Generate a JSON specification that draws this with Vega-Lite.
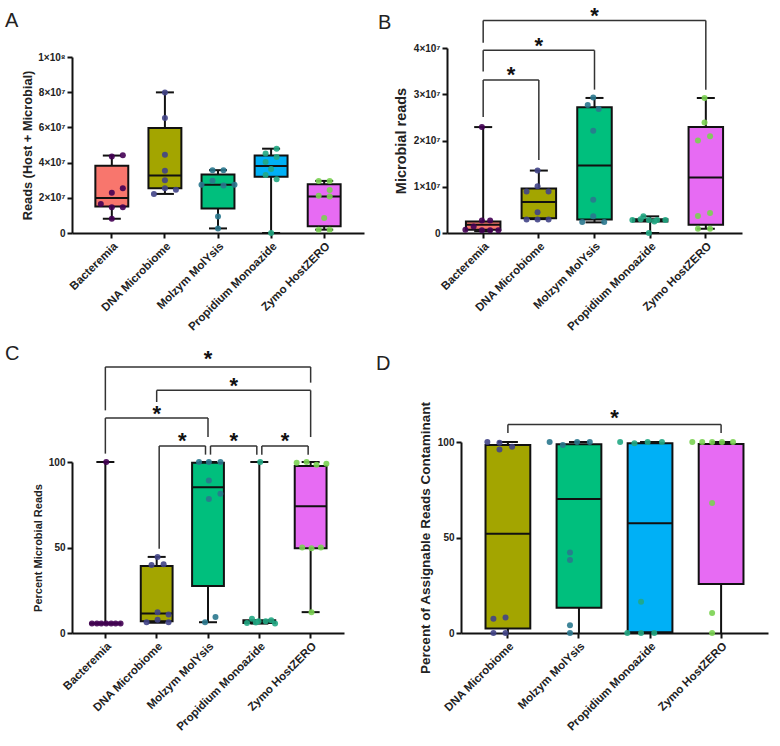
{
  "$schema": "https://vega.github.io/schema/vega-lite/v6.json",
  "background": "white",
  "padding": 5,
  "spacing": 10,
  "config": {
    "font": "Liberation Sans",
    "view": {"stroke": null},
    "axis": {"grid": false, "domainColor": "#111", "domainWidth": 2, "tickColor": "#111", "tickWidth": 2, "tickSize": 5, "labelFont": "Liberation Sans", "labelFontWeight": "bold", "labelFontSize": 10, "labelColor": "#222", "labelOverlap": false, "labelBound": false, "titleFont": "Liberation Sans", "titleFontWeight": "bold", "titleFontSize": 12, "titleColor": "#222"},
    "axisX": {"labelAngle": -45, "labelFontSize": 11.5},
    "title": {"anchor": "start", "frame": "group", "fontSize": 20, "fontWeight": "normal", "color": "#222", "offset": 0}
  },
  "datasets": {
    "boxA": [
      {"g": "Bacteremia", "min": 8100000, "q1": 15000000, "med": 19900000, "q3": 38200000, "max": 44000000},
      {"g": "DNA Microbiome", "min": 22200000, "q1": 25400000, "med": 32700000, "q3": 59600000, "max": 79900000},
      {"g": "Molzym MolYsis", "min": 2600000, "q1": 13900000, "med": 27400000, "q3": 33300000, "max": 35700000},
      {"g": "Propidium Monoazide", "min": 0, "q1": 32000000, "med": 38000000, "q3": 44000000, "max": 47900000},
      {"g": "Zymo HostZERO", "min": 1900000, "q1": 3800000, "med": 20800000, "q3": 27700000, "max": 29600000}
    ],
    "ptsA": [
      {"g": "Bacteremia", "v": 43500000, "j": 0}, {"g": "Bacteremia", "v": 44200000, "j": 2}, {"g": "Bacteremia", "v": 22900000, "j": 0}, {"g": "Bacteremia", "v": 25400000, "j": 2},
      {"g": "Bacteremia", "v": 16500000, "j": -2}, {"g": "Bacteremia", "v": 14700000, "j": 0}, {"g": "Bacteremia", "v": 14700000, "j": 2}, {"g": "Bacteremia", "v": 8100000, "j": 0},
      {"g": "DNA Microbiome", "v": 79900000, "j": 0}, {"g": "DNA Microbiome", "v": 65400000, "j": 0}, {"g": "DNA Microbiome", "v": 44500000, "j": 0}, {"g": "DNA Microbiome", "v": 35300000, "j": 0},
      {"g": "DNA Microbiome", "v": 30000000, "j": 0}, {"g": "DNA Microbiome", "v": 25400000, "j": 0}, {"g": "DNA Microbiome", "v": 24600000, "j": 2}, {"g": "DNA Microbiome", "v": 22200000, "j": -2},
      {"g": "Molzym MolYsis", "v": 35700000, "j": -1}, {"g": "Molzym MolYsis", "v": 35700000, "j": 1}, {"g": "Molzym MolYsis", "v": 27400000, "j": -3}, {"g": "Molzym MolYsis", "v": 29700000, "j": -1},
      {"g": "Molzym MolYsis", "v": 27000000, "j": 1}, {"g": "Molzym MolYsis", "v": 27400000, "j": 3}, {"g": "Molzym MolYsis", "v": 9400000, "j": 0}, {"g": "Molzym MolYsis", "v": 2600000, "j": 0},
      {"g": "Propidium Monoazide", "v": 47900000, "j": 1}, {"g": "Propidium Monoazide", "v": 45100000, "j": -1}, {"g": "Propidium Monoazide", "v": 43200000, "j": 1}, {"g": "Propidium Monoazide", "v": 40400000, "j": -1},
      {"g": "Propidium Monoazide", "v": 36300000, "j": 0}, {"g": "Propidium Monoazide", "v": 32900000, "j": -1}, {"g": "Propidium Monoazide", "v": 30500000, "j": 1}, {"g": "Propidium Monoazide", "v": 0, "j": 0},
      {"g": "Zymo HostZERO", "v": 29600000, "j": -1}, {"g": "Zymo HostZERO", "v": 29600000, "j": 1}, {"g": "Zymo HostZERO", "v": 24500000, "j": 1}, {"g": "Zymo HostZERO", "v": 21100000, "j": -1},
      {"g": "Zymo HostZERO", "v": 20800000, "j": 1}, {"g": "Zymo HostZERO", "v": 8500000, "j": 0}, {"g": "Zymo HostZERO", "v": 1900000, "j": -1}, {"g": "Zymo HostZERO", "v": 1900000, "j": 1}
    ],
    "boxB": [
      {"g": "Bacteremia", "min": 400000, "q1": 700000, "med": 1800000, "q3": 2500000, "max": 22900000},
      {"g": "DNA Microbiome", "min": 3000000, "q1": 3200000, "med": 6700000, "q3": 9600000, "max": 13500000},
      {"g": "Molzym MolYsis", "min": 2300000, "q1": 2900000, "med": 14600000, "q3": 27200000, "max": 29200000},
      {"g": "Propidium Monoazide", "min": 0, "q1": 2500000, "med": 2800000, "q3": 3000000, "max": 3600000},
      {"g": "Zymo HostZERO", "min": 900000, "q1": 1800000, "med": 12000000, "q3": 22900000, "max": 29200000}
    ],
    "ptsB": [
      {"g": "Bacteremia", "v": 22900000, "j": 0}, {"g": "Bacteremia", "v": 2700000, "j": 0}, {"g": "Bacteremia", "v": 2700000, "j": 1.5}, {"g": "Bacteremia", "v": 1400000, "j": -1.5},
      {"g": "Bacteremia", "v": 700000, "j": -3}, {"g": "Bacteremia", "v": 600000, "j": 0}, {"g": "Bacteremia", "v": 600000, "j": 1.5}, {"g": "Bacteremia", "v": 600000, "j": 3},
      {"g": "DNA Microbiome", "v": 13500000, "j": 0}, {"g": "DNA Microbiome", "v": 10100000, "j": 0}, {"g": "DNA Microbiome", "v": 9000000, "j": -2}, {"g": "DNA Microbiome", "v": 9000000, "j": 2},
      {"g": "DNA Microbiome", "v": 4500000, "j": 0}, {"g": "DNA Microbiome", "v": 2900000, "j": -2}, {"g": "DNA Microbiome", "v": 2900000, "j": 0}, {"g": "DNA Microbiome", "v": 2900000, "j": 2},
      {"g": "Molzym MolYsis", "v": 29300000, "j": 0}, {"g": "Molzym MolYsis", "v": 27700000, "j": -1}, {"g": "Molzym MolYsis", "v": 26800000, "j": 1}, {"g": "Molzym MolYsis", "v": 22100000, "j": 0},
      {"g": "Molzym MolYsis", "v": 7200000, "j": 0}, {"g": "Molzym MolYsis", "v": 3600000, "j": 0}, {"g": "Molzym MolYsis", "v": 2400000, "j": -2}, {"g": "Molzym MolYsis", "v": 2400000, "j": 2},
      {"g": "Propidium Monoazide", "v": 3600000, "j": -1}, {"g": "Propidium Monoazide", "v": 2800000, "j": -3}, {"g": "Propidium Monoazide", "v": 3000000, "j": -1.5}, {"g": "Propidium Monoazide", "v": 2800000, "j": 0},
      {"g": "Propidium Monoazide", "v": 2800000, "j": 1.5}, {"g": "Propidium Monoazide", "v": 2800000, "j": 3}, {"g": "Propidium Monoazide", "v": 2500000, "j": 1}, {"g": "Propidium Monoazide", "v": 0, "j": 0},
      {"g": "Zymo HostZERO", "v": 29200000, "j": 0}, {"g": "Zymo HostZERO", "v": 23900000, "j": 0}, {"g": "Zymo HostZERO", "v": 20000000, "j": -1.2}, {"g": "Zymo HostZERO", "v": 20900000, "j": 1},
      {"g": "Zymo HostZERO", "v": 3700000, "j": -1.2}, {"g": "Zymo HostZERO", "v": 4300000, "j": 1}, {"g": "Zymo HostZERO", "v": 900000, "j": -1.2}, {"g": "Zymo HostZERO", "v": 900000, "j": 1}
    ],
    "brB": [
      {"a": "Bacteremia", "b": "DNA Microbiome", "h": 33100000, "ea": 25100000, "eb": 15800000},
      {"a": "Bacteremia", "b": "Molzym MolYsis", "h": 39500000, "ea": 34900000, "eb": 31000000},
      {"a": "Bacteremia", "b": "Zymo HostZERO", "h": 45970000, "ea": 41150000, "eb": 31000000}
    ],
    "starB": [
      {"c": "DNA Microbiome", "at": "edge", "s": 35200000},
      {"c": "DNA Microbiome", "at": "center", "s": 41600000},
      {"c": "Molzym MolYsis", "at": "center", "s": 47900000}
    ],
    "boxC": [
      {"g": "Bacteremia", "min": 5.5, "q1": 5.5, "med": 5.5, "q3": 5.5, "max": 100},
      {"g": "DNA Microbiome", "min": 6.0, "q1": 6.9, "med": 11.4, "q3": 39.2, "max": 44.5},
      {"g": "Molzym MolYsis", "min": 6.3, "q1": 27.5, "med": 85.3, "q3": 99.6, "max": 100},
      {"g": "Propidium Monoazide", "min": 5.5, "q1": 5.9, "med": 6.9, "q3": 7.5, "max": 100},
      {"g": "Zymo HostZERO", "min": 12.2, "q1": 49.6, "med": 74.1, "q3": 97.6, "max": 100}
    ],
    "ptsC": [
      {"g": "Bacteremia", "v": 100, "j": 0}, {"g": "Bacteremia", "v": 5.5, "j": -2.6}, {"g": "Bacteremia", "v": 5.5, "j": -1.7}, {"g": "Bacteremia", "v": 5.5, "j": -0.9},
      {"g": "Bacteremia", "v": 5.5, "j": 0}, {"g": "Bacteremia", "v": 5.5, "j": 0.9}, {"g": "Bacteremia", "v": 5.5, "j": 1.7}, {"g": "Bacteremia", "v": 5.5, "j": 2.6},
      {"g": "DNA Microbiome", "v": 44.5, "j": 0}, {"g": "DNA Microbiome", "v": 39.8, "j": -1.1}, {"g": "DNA Microbiome", "v": 40.2, "j": 1.1}, {"g": "DNA Microbiome", "v": 12.2, "j": 0},
      {"g": "DNA Microbiome", "v": 10.8, "j": 2}, {"g": "DNA Microbiome", "v": 7.8, "j": 0}, {"g": "DNA Microbiome", "v": 6.3, "j": -2}, {"g": "DNA Microbiome", "v": 6.3, "j": 2},
      {"g": "Molzym MolYsis", "v": 100, "j": -1.8}, {"g": "Molzym MolYsis", "v": 100, "j": 0}, {"g": "Molzym MolYsis", "v": 100, "j": 2.1}, {"g": "Molzym MolYsis", "v": 89.2, "j": 0},
      {"g": "Molzym MolYsis", "v": 78.4, "j": 0}, {"g": "Molzym MolYsis", "v": 81.4, "j": 2.1}, {"g": "Molzym MolYsis", "v": 6.3, "j": -0.7}, {"g": "Molzym MolYsis", "v": 9.4, "j": 1.2},
      {"g": "Propidium Monoazide", "v": 100, "j": 0}, {"g": "Propidium Monoazide", "v": 5.9, "j": -2.4}, {"g": "Propidium Monoazide", "v": 8.4, "j": -1.5}, {"g": "Propidium Monoazide", "v": 6.9, "j": -0.3},
      {"g": "Propidium Monoazide", "v": 6.9, "j": 1}, {"g": "Propidium Monoazide", "v": 7.5, "j": 2}, {"g": "Propidium Monoazide", "v": 5.5, "j": 2.7}, {"g": "Propidium Monoazide", "v": 6.2, "j": -0.8},
      {"g": "Zymo HostZERO", "v": 100, "j": -0.9}, {"g": "Zymo HostZERO", "v": 99.5, "j": -2.7}, {"g": "Zymo HostZERO", "v": 98.4, "j": 0.9}, {"g": "Zymo HostZERO", "v": 99, "j": 2.7},
      {"g": "Zymo HostZERO", "v": 50, "j": -1.7}, {"g": "Zymo HostZERO", "v": 49.6, "j": 0}, {"g": "Zymo HostZERO", "v": 50, "j": 1.7}, {"g": "Zymo HostZERO", "v": 12.2, "j": 0}
    ],
    "brC": [
      {"a": "Bacteremia", "b": "Zymo HostZERO", "h": 155.6, "ea": 130.2, "eb": 146.4},
      {"a": "DNA Microbiome", "b": "Zymo HostZERO", "h": 141.9, "ea": 135.1, "eb": 114.6},
      {"a": "Bacteremia", "b": "Molzym MolYsis", "h": 125.7, "ea": 104.9, "eb": 114.6}
    ],
    "brC2": [
      {"a": "DNA Microbiome", "b": "Molzym MolYsis", "h": 109.4, "ea": 49.3, "eb": 104.3},
      {"a": "Molzym MolYsis", "b": "Propidium Monoazide", "h": 109.4, "ea": 104.3, "eb": 104.3},
      {"a": "Propidium Monoazide", "b": "Zymo HostZERO", "h": 109.4, "ea": 104.3, "eb": 104.3}
    ],
    "starC": [
      {"c": "Molzym MolYsis", "at": "center", "s": 163.3},
      {"c": "Propidium Monoazide", "at": "edge", "s": 147.4},
      {"c": "DNA Microbiome", "at": "center", "s": 131.2},
      {"c": "Molzym MolYsis", "at": "edge", "s": 115},
      {"c": "Propidium Monoazide", "at": "edge", "s": 115},
      {"c": "Zymo HostZERO", "at": "edge", "s": 115}
    ],
    "boxD": [
      {"g": "DNA Microbiome", "min": 0, "q1": 2.3, "med": 51.9, "q3": 98.4, "max": 100},
      {"g": "Molzym MolYsis", "min": 0, "q1": 13.2, "med": 70.2, "q3": 98.8, "max": 100},
      {"g": "Propidium Monoazide", "min": 0, "q1": 0.35, "med": 57.5, "q3": 99.3, "max": 100},
      {"g": "Zymo HostZERO", "min": 0, "q1": 25.6, "med": 99, "q3": 99, "max": 100}
    ],
    "ptsD": [
      {"g": "DNA Microbiome", "v": 100, "j": -2.1}, {"g": "DNA Microbiome", "v": 99.6, "j": 0.1}, {"g": "DNA Microbiome", "v": 96.1, "j": 0.1}, {"g": "DNA Microbiome", "v": 97.5, "j": 2.4},
      {"g": "DNA Microbiome", "v": 7.5, "j": -1}, {"g": "DNA Microbiome", "v": 8.1, "j": 1.2}, {"g": "DNA Microbiome", "v": 0, "j": -1}, {"g": "DNA Microbiome", "v": 0, "j": 1.2},
      {"g": "Molzym MolYsis", "v": 100, "j": -3.7}, {"g": "Molzym MolYsis", "v": 100, "j": 1.3}, {"g": "Molzym MolYsis", "v": 100, "j": 3.6}, {"g": "Molzym MolYsis", "v": 98.4, "j": -1.3},
      {"g": "Molzym MolYsis", "v": 42.1, "j": 0}, {"g": "Molzym MolYsis", "v": 38.2, "j": 0}, {"g": "Molzym MolYsis", "v": 4.0, "j": 0}, {"g": "Molzym MolYsis", "v": 0, "j": 0},
      {"g": "Propidium Monoazide", "v": 100, "j": -3.8}, {"g": "Propidium Monoazide", "v": 100, "j": 1.2}, {"g": "Propidium Monoazide", "v": 100, "j": 3.8}, {"g": "Propidium Monoazide", "v": 99.3, "j": -1.2},
      {"g": "Propidium Monoazide", "v": 16.3, "j": 0}, {"g": "Propidium Monoazide", "v": 0, "j": -2.5}, {"g": "Propidium Monoazide", "v": 0, "j": 0}, {"g": "Propidium Monoazide", "v": 0, "j": 2.4},
      {"g": "Zymo HostZERO", "v": 100, "j": -3.6}, {"g": "Zymo HostZERO", "v": 100, "j": -1.8}, {"g": "Zymo HostZERO", "v": 100, "j": 0}, {"g": "Zymo HostZERO", "v": 100, "j": 1.8},
      {"g": "Zymo HostZERO", "v": 100, "j": 3.8}, {"g": "Zymo HostZERO", "v": 68.1, "j": 0}, {"g": "Zymo HostZERO", "v": 10.5, "j": 0}, {"g": "Zymo HostZERO", "v": 0, "j": 0}
    ],
    "brD": [
      {"a": "DNA Microbiome", "b": "Zymo HostZERO", "h": 109.1, "ea": 104.7, "eb": 104.7}
    ],
    "starD": [
      {"c": "Propidium Monoazide", "at": "edge", "s": 115.2}
    ]
  },
  "vconcat": [
    {
      "bounds": "flush",
      "spacing": 83,
      "hconcat": [
        {
          "width": 292, "height": 185,
          "title": {"text": "A", "dx": -67, "dy": -13},
          "layer": [
            {"data": {"name": "boxA"}, "mark": {"type": "rule", "color": "#111", "strokeWidth": 2},
             "encoding": {
               "x": {"field": "g", "type": "nominal", "sort": ["Bacteremia", "DNA Microbiome", "Molzym MolYsis", "Propidium Monoazide", "Zymo HostZERO"], "scale": {"paddingInner": 0, "paddingOuter": 0.25}, "axis": {"title": null}},
               "y": {"field": "min", "type": "quantitative", "scale": {"domain": [0, 100000000], "range": [185, 9], "nice": false, "zero": true}, "axis": {"title": "Reads (Host + Microbial)", "titleFontSize": 12.8, "titlePadding": 3, "tickCount": 10, "values": [0, 20000000, 40000000, 60000000, 80000000, 100000000], "labelExpr": "datum.value == 0 ? '0' : (datum.value >= 100000000 ? '1×10⁸' : format(datum.value / 10000000, 'd') + '×10⁷')"}},
               "y2": {"field": "max"}}},
            {"data": {"name": "boxA"}, "mark": {"type": "bar", "stroke": "#111", "strokeWidth": 2},
             "encoding": {
               "x": {"field": "g", "type": "nominal", "bandPosition": 0.19, "sort": ["Bacteremia", "DNA Microbiome", "Molzym MolYsis", "Propidium Monoazide", "Zymo HostZERO"]},
               "x2": {"field": "g", "bandPosition": 0.81},
               "y": {"field": "q1", "type": "quantitative", "scale": {"domain": [0, 100000000], "range": [185, 9], "nice": false, "zero": true}}, "y2": {"field": "q3"},
               "fill": {"field": "g", "type": "nominal", "scale": {"domain": ["Bacteremia", "DNA Microbiome", "Molzym MolYsis", "Propidium Monoazide", "Zymo HostZERO"], "range": ["#F8766D", "#A3A500", "#00BF7D", "#00B0F6", "#E76BF3"]}, "legend": null}}},
            {"data": {"name": "boxA"}, "mark": {"type": "bar", "stroke": "#111", "strokeWidth": 2, "fillOpacity": 0},
             "encoding": {
               "x": {"field": "g", "type": "nominal", "bandPosition": 0.19, "sort": ["Bacteremia", "DNA Microbiome", "Molzym MolYsis", "Propidium Monoazide", "Zymo HostZERO"]},
               "x2": {"field": "g", "bandPosition": 0.81},
               "y": {"field": "med", "type": "quantitative", "scale": {"domain": [0, 100000000], "range": [185, 9], "nice": false, "zero": true}}, "y2": {"field": "med"}}},
            {"data": {"name": "boxA"}, "mark": {"type": "tick", "size": 18, "thickness": 2, "color": "#111", "opacity": 1},
             "encoding": {
               "x": {"field": "g", "type": "nominal", "sort": ["Bacteremia", "DNA Microbiome", "Molzym MolYsis", "Propidium Monoazide", "Zymo HostZERO"]},
               "y": {"field": "max", "type": "quantitative", "scale": {"domain": [0, 100000000], "range": [185, 9], "nice": false, "zero": true}}}},
            {"data": {"name": "boxA"}, "mark": {"type": "tick", "size": 18, "thickness": 2, "color": "#111", "opacity": 1},
             "encoding": {
               "x": {"field": "g", "type": "nominal", "sort": ["Bacteremia", "DNA Microbiome", "Molzym MolYsis", "Propidium Monoazide", "Zymo HostZERO"]},
               "y": {"field": "min", "type": "quantitative", "scale": {"domain": [0, 100000000], "range": [185, 9], "nice": false, "zero": true}}}},
            {"data": {"name": "ptsA"}, "mark": {"type": "point", "filled": true, "size": 36, "opacity": 0.9},
             "encoding": {
               "x": {"field": "g", "type": "nominal", "sort": ["Bacteremia", "DNA Microbiome", "Molzym MolYsis", "Propidium Monoazide", "Zymo HostZERO"]},
               "xOffset": {"field": "j", "type": "quantitative", "scale": {"domain": [-4, 4], "range": [4.55, 48.55]}},
               "y": {"field": "v", "type": "quantitative", "scale": {"domain": [0, 100000000], "range": [185, 9], "nice": false, "zero": true}},
               "color": {"field": "g", "type": "nominal", "scale": {"domain": ["Bacteremia", "DNA Microbiome", "Molzym MolYsis", "Propidium Monoazide", "Zymo HostZERO"], "range": ["#440154", "#414487", "#2A788E", "#22A884", "#7AD151"]}, "legend": null}}}
          ]
        },
        {
          "width": 295, "height": 185,
          "title": {"text": "B", "dx": -69, "dy": 32},
          "layer": [
            {"data": {"name": "boxB"}, "mark": {"type": "rule", "color": "#111", "strokeWidth": 2},
             "encoding": {
               "x": {"field": "g", "type": "nominal", "sort": ["Bacteremia", "DNA Microbiome", "Molzym MolYsis", "Propidium Monoazide", "Zymo HostZERO"], "scale": {"paddingInner": 0, "paddingOuter": 0.15}, "axis": {"title": null}},
               "y": {"field": "min", "type": "quantitative", "scale": {"domain": [0, 40000000], "nice": false, "zero": true}, "axis": {"title": "Microbial reads", "titleFontSize": 14.5, "titlePadding": 5, "tickCount": 10, "values": [0, 10000000, 20000000, 30000000, 40000000], "labelExpr": "datum.value == 0 ? '0' : format(datum.value / 10000000, 'd') + '×10⁷'"}},
               "y2": {"field": "max"}}},
            {"data": {"name": "boxB"}, "mark": {"type": "bar", "stroke": "#111", "strokeWidth": 2},
             "encoding": {
               "x": {"field": "g", "type": "nominal", "bandPosition": 0.19, "sort": ["Bacteremia", "DNA Microbiome", "Molzym MolYsis", "Propidium Monoazide", "Zymo HostZERO"]},
               "x2": {"field": "g", "bandPosition": 0.81},
               "y": {"field": "q1", "type": "quantitative", "scale": {"domain": [0, 40000000], "nice": false, "zero": true}}, "y2": {"field": "q3"},
               "fill": {"field": "g", "type": "nominal", "scale": {"domain": ["Bacteremia", "DNA Microbiome", "Molzym MolYsis", "Propidium Monoazide", "Zymo HostZERO"], "range": ["#F8766D", "#A3A500", "#00BF7D", "#00B0F6", "#E76BF3"]}, "legend": null}}},
            {"data": {"name": "boxB"}, "mark": {"type": "bar", "stroke": "#111", "strokeWidth": 2, "fillOpacity": 0},
             "encoding": {
               "x": {"field": "g", "type": "nominal", "bandPosition": 0.19, "sort": ["Bacteremia", "DNA Microbiome", "Molzym MolYsis", "Propidium Monoazide", "Zymo HostZERO"]},
               "x2": {"field": "g", "bandPosition": 0.81},
               "y": {"field": "med", "type": "quantitative", "scale": {"domain": [0, 40000000], "nice": false, "zero": true}}, "y2": {"field": "med"}}},
            {"data": {"name": "boxB"}, "mark": {"type": "tick", "size": 18, "thickness": 2, "color": "#111", "opacity": 1},
             "encoding": {
               "x": {"field": "g", "type": "nominal", "sort": ["Bacteremia", "DNA Microbiome", "Molzym MolYsis", "Propidium Monoazide", "Zymo HostZERO"]},
               "y": {"field": "max", "type": "quantitative", "scale": {"domain": [0, 40000000], "nice": false, "zero": true}}}},
            {"data": {"name": "boxB"}, "mark": {"type": "tick", "size": 18, "thickness": 2, "color": "#111", "opacity": 1},
             "encoding": {
               "x": {"field": "g", "type": "nominal", "sort": ["Bacteremia", "DNA Microbiome", "Molzym MolYsis", "Propidium Monoazide", "Zymo HostZERO"]},
               "y": {"field": "min", "type": "quantitative", "scale": {"domain": [0, 40000000], "nice": false, "zero": true}}}},
            {"data": {"name": "ptsB"}, "mark": {"type": "point", "filled": true, "size": 36, "opacity": 0.9},
             "encoding": {
               "x": {"field": "g", "type": "nominal", "sort": ["Bacteremia", "DNA Microbiome", "Molzym MolYsis", "Propidium Monoazide", "Zymo HostZERO"]},
               "xOffset": {"field": "j", "type": "quantitative", "scale": {"domain": [-4, 4], "range": [5.83, 49.83]}},
               "y": {"field": "v", "type": "quantitative", "scale": {"domain": [0, 40000000], "nice": false, "zero": true}},
               "color": {"field": "g", "type": "nominal", "scale": {"domain": ["Bacteremia", "DNA Microbiome", "Molzym MolYsis", "Propidium Monoazide", "Zymo HostZERO"], "range": ["#440154", "#414487", "#2A788E", "#22A884", "#7AD151"]}, "legend": null}}},
            {"data": {"name": "brB"}, "mark": {"type": "rule", "color": "#333", "strokeWidth": 1.5},
             "encoding": {"x": {"field": "a", "type": "nominal", "bandPosition": 0.5, "sort": ["Bacteremia", "DNA Microbiome", "Molzym MolYsis", "Propidium Monoazide", "Zymo HostZERO"]}, "x2": {"field": "b", "bandPosition": 0.5}, "y": {"field": "h", "type": "quantitative", "scale": {"domain": [0, 40000000], "nice": false, "zero": true}}}},
            {"data": {"name": "brB"}, "mark": {"type": "rule", "color": "#333", "strokeWidth": 1.5},
             "encoding": {"x": {"field": "a", "type": "nominal", "sort": ["Bacteremia", "DNA Microbiome", "Molzym MolYsis", "Propidium Monoazide", "Zymo HostZERO"]}, "y": {"field": "h", "type": "quantitative", "scale": {"domain": [0, 40000000], "nice": false, "zero": true}}, "y2": {"field": "ea"}}},
            {"data": {"name": "brB"}, "mark": {"type": "rule", "color": "#333", "strokeWidth": 1.5},
             "encoding": {"x": {"field": "b", "type": "nominal", "sort": ["Bacteremia", "DNA Microbiome", "Molzym MolYsis", "Propidium Monoazide", "Zymo HostZERO"]}, "y": {"field": "h", "type": "quantitative", "scale": {"domain": [0, 40000000], "nice": false, "zero": true}}, "y2": {"field": "eb"}}},
            {"data": {"name": "starB"}, "transform": [{"filter": "datum.at == 'center'"}], "mark": {"type": "text", "text": "*", "font": "Liberation Sans", "fontWeight": "bold", "fontSize": 22, "baseline": "middle", "dy": 5, "color": "#111"},
             "encoding": {"x": {"field": "c", "type": "nominal", "bandPosition": 0.5, "sort": ["Bacteremia", "DNA Microbiome", "Molzym MolYsis", "Propidium Monoazide", "Zymo HostZERO"]}, "y": {"field": "s", "type": "quantitative", "scale": {"domain": [0, 40000000], "nice": false, "zero": true}}}},
            {"data": {"name": "starB"}, "transform": [{"filter": "datum.at == 'edge'"}], "mark": {"type": "text", "text": "*", "font": "Liberation Sans", "fontWeight": "bold", "fontSize": 22, "baseline": "middle", "dy": 5, "color": "#111"},
             "encoding": {"x": {"field": "c", "type": "nominal", "bandPosition": 0, "sort": ["Bacteremia", "DNA Microbiome", "Molzym MolYsis", "Propidium Monoazide", "Zymo HostZERO"]}, "y": {"field": "s", "type": "quantitative", "scale": {"domain": [0, 40000000], "nice": false, "zero": true}}}}
          ]
        }
      ]
    },
    {
      "bounds": "flush",
      "spacing": 117,
      "hconcat": [
        {
          "width": 272, "height": 191,
          "title": {"text": "C", "dx": -67, "dy": 20},
          "layer": [
            {"data": {"name": "boxC"}, "mark": {"type": "rule", "color": "#111", "strokeWidth": 2},
             "encoding": {
               "x": {"field": "g", "type": "nominal", "sort": ["Bacteremia", "DNA Microbiome", "Molzym MolYsis", "Propidium Monoazide", "Zymo HostZERO"], "scale": {"paddingInner": 0, "paddingOuter": 0.15}, "axis": {"title": null}},
               "y": {"field": "min", "type": "quantitative", "scale": {"domain": [0, 100], "range": [191, 20], "nice": false, "zero": true}, "axis": {"title": "Percent Microbial Reads", "titleFontSize": 11, "titlePadding": 5, "tickCount": 10, "values": [0, 50, 100]}},
               "y2": {"field": "max"}}},
            {"data": {"name": "boxC"}, "mark": {"type": "bar", "stroke": "#111", "strokeWidth": 2},
             "encoding": {
               "x": {"field": "g", "type": "nominal", "bandPosition": 0.19, "sort": ["Bacteremia", "DNA Microbiome", "Molzym MolYsis", "Propidium Monoazide", "Zymo HostZERO"]},
               "x2": {"field": "g", "bandPosition": 0.81},
               "y": {"field": "q1", "type": "quantitative", "scale": {"domain": [0, 100], "range": [191, 20], "nice": false, "zero": true}}, "y2": {"field": "q3"},
               "fill": {"field": "g", "type": "nominal", "scale": {"domain": ["Bacteremia", "DNA Microbiome", "Molzym MolYsis", "Propidium Monoazide", "Zymo HostZERO"], "range": ["#F8766D", "#A3A500", "#00BF7D", "#00B0F6", "#E76BF3"]}, "legend": null}}},
            {"data": {"name": "boxC"}, "mark": {"type": "bar", "stroke": "#111", "strokeWidth": 2, "fillOpacity": 0},
             "encoding": {
               "x": {"field": "g", "type": "nominal", "bandPosition": 0.19, "sort": ["Bacteremia", "DNA Microbiome", "Molzym MolYsis", "Propidium Monoazide", "Zymo HostZERO"]},
               "x2": {"field": "g", "bandPosition": 0.81},
               "y": {"field": "med", "type": "quantitative", "scale": {"domain": [0, 100], "range": [191, 20], "nice": false, "zero": true}}, "y2": {"field": "med"}}},
            {"data": {"name": "boxC"}, "mark": {"type": "tick", "size": 18, "thickness": 2, "color": "#111", "opacity": 1},
             "encoding": {
               "x": {"field": "g", "type": "nominal", "sort": ["Bacteremia", "DNA Microbiome", "Molzym MolYsis", "Propidium Monoazide", "Zymo HostZERO"]},
               "y": {"field": "max", "type": "quantitative", "scale": {"domain": [0, 100], "range": [191, 20], "nice": false, "zero": true}}}},
            {"data": {"name": "boxC"}, "mark": {"type": "tick", "size": 18, "thickness": 2, "color": "#111", "opacity": 1},
             "encoding": {
               "x": {"field": "g", "type": "nominal", "sort": ["Bacteremia", "DNA Microbiome", "Molzym MolYsis", "Propidium Monoazide", "Zymo HostZERO"]},
               "y": {"field": "min", "type": "quantitative", "scale": {"domain": [0, 100], "range": [191, 20], "nice": false, "zero": true}}}},
            {"data": {"name": "ptsC"}, "mark": {"type": "point", "filled": true, "size": 36, "opacity": 0.9},
             "encoding": {
               "x": {"field": "g", "type": "nominal", "sort": ["Bacteremia", "DNA Microbiome", "Molzym MolYsis", "Propidium Monoazide", "Zymo HostZERO"]},
               "xOffset": {"field": "j", "type": "quantitative", "scale": {"domain": [-4, 4], "range": [3.66, 47.66]}},
               "y": {"field": "v", "type": "quantitative", "scale": {"domain": [0, 100], "range": [191, 20], "nice": false, "zero": true}},
               "color": {"field": "g", "type": "nominal", "scale": {"domain": ["Bacteremia", "DNA Microbiome", "Molzym MolYsis", "Propidium Monoazide", "Zymo HostZERO"], "range": ["#440154", "#414487", "#2A788E", "#22A884", "#7AD151"]}, "legend": null}}},
            {"data": {"name": "brC"}, "mark": {"type": "rule", "color": "#333", "strokeWidth": 1.5},
             "encoding": {"x": {"field": "a", "type": "nominal", "bandPosition": 0.5, "sort": ["Bacteremia", "DNA Microbiome", "Molzym MolYsis", "Propidium Monoazide", "Zymo HostZERO"]}, "x2": {"field": "b", "bandPosition": 0.5}, "y": {"field": "h", "type": "quantitative", "scale": {"domain": [0, 100], "range": [191, 20], "nice": false, "zero": true}}}},
            {"data": {"name": "brC"}, "mark": {"type": "rule", "color": "#333", "strokeWidth": 1.5},
             "encoding": {"x": {"field": "a", "type": "nominal", "sort": ["Bacteremia", "DNA Microbiome", "Molzym MolYsis", "Propidium Monoazide", "Zymo HostZERO"]}, "y": {"field": "h", "type": "quantitative", "scale": {"domain": [0, 100], "range": [191, 20], "nice": false, "zero": true}}, "y2": {"field": "ea"}}},
            {"data": {"name": "brC"}, "mark": {"type": "rule", "color": "#333", "strokeWidth": 1.5},
             "encoding": {"x": {"field": "b", "type": "nominal", "sort": ["Bacteremia", "DNA Microbiome", "Molzym MolYsis", "Propidium Monoazide", "Zymo HostZERO"]}, "y": {"field": "h", "type": "quantitative", "scale": {"domain": [0, 100], "range": [191, 20], "nice": false, "zero": true}}, "y2": {"field": "eb"}}},
            {"data": {"name": "brC2"}, "mark": {"type": "rule", "color": "#333", "strokeWidth": 1.5, "xOffset": 2.5, "x2Offset": -2.5},
             "encoding": {"x": {"field": "a", "type": "nominal", "bandPosition": 0.5, "sort": ["Bacteremia", "DNA Microbiome", "Molzym MolYsis", "Propidium Monoazide", "Zymo HostZERO"]}, "x2": {"field": "b", "bandPosition": 0.5}, "y": {"field": "h", "type": "quantitative", "scale": {"domain": [0, 100], "range": [191, 20], "nice": false, "zero": true}}}},
            {"data": {"name": "brC2"}, "mark": {"type": "rule", "color": "#333", "strokeWidth": 1.5, "xOffset": 2.5},
             "encoding": {"x": {"field": "a", "type": "nominal", "sort": ["Bacteremia", "DNA Microbiome", "Molzym MolYsis", "Propidium Monoazide", "Zymo HostZERO"]}, "y": {"field": "h", "type": "quantitative", "scale": {"domain": [0, 100], "range": [191, 20], "nice": false, "zero": true}}, "y2": {"field": "ea"}}},
            {"data": {"name": "brC2"}, "mark": {"type": "rule", "color": "#333", "strokeWidth": 1.5, "xOffset": -2.5},
             "encoding": {"x": {"field": "b", "type": "nominal", "sort": ["Bacteremia", "DNA Microbiome", "Molzym MolYsis", "Propidium Monoazide", "Zymo HostZERO"]}, "y": {"field": "h", "type": "quantitative", "scale": {"domain": [0, 100], "range": [191, 20], "nice": false, "zero": true}}, "y2": {"field": "eb"}}},
            {"data": {"name": "starC"}, "transform": [{"filter": "datum.at == 'center'"}], "mark": {"type": "text", "text": "*", "font": "Liberation Sans", "fontWeight": "bold", "fontSize": 22, "baseline": "middle", "dy": 5, "color": "#111"},
             "encoding": {"x": {"field": "c", "type": "nominal", "bandPosition": 0.5, "sort": ["Bacteremia", "DNA Microbiome", "Molzym MolYsis", "Propidium Monoazide", "Zymo HostZERO"]}, "y": {"field": "s", "type": "quantitative", "scale": {"domain": [0, 100], "range": [191, 20], "nice": false, "zero": true}}}},
            {"data": {"name": "starC"}, "transform": [{"filter": "datum.at == 'edge'"}], "mark": {"type": "text", "text": "*", "font": "Liberation Sans", "fontWeight": "bold", "fontSize": 22, "baseline": "middle", "dy": 5, "color": "#111"},
             "encoding": {"x": {"field": "c", "type": "nominal", "bandPosition": 0, "sort": ["Bacteremia", "DNA Microbiome", "Molzym MolYsis", "Propidium Monoazide", "Zymo HostZERO"]}, "y": {"field": "s", "type": "quantitative", "scale": {"domain": [0, 100], "range": [191, 20], "nice": false, "zero": true}}}}
          ]
        },
        {
          "width": 307, "height": 191,
          "title": {"text": "D", "dx": -85, "dy": -23},
          "layer": [
            {"data": {"name": "boxD"}, "mark": {"type": "rule", "color": "#111", "strokeWidth": 2},
             "encoding": {
               "x": {"field": "g", "type": "nominal", "sort": ["DNA Microbiome", "Molzym MolYsis", "Propidium Monoazide", "Zymo HostZERO"], "scale": {"paddingInner": 0, "paddingOuter": 0.16}, "axis": {"title": null}},
               "y": {"field": "min", "type": "quantitative", "scale": {"domain": [0, 100], "nice": false, "zero": true}, "axis": {"title": "Percent of Assignable Reads Contaminant", "titleFontSize": 13.5, "titlePadding": 5, "tickCount": 10, "values": [0, 50, 100]}},
               "y2": {"field": "max"}}},
            {"data": {"name": "boxD"}, "mark": {"type": "bar", "stroke": "#111", "strokeWidth": 2},
             "encoding": {
               "x": {"field": "g", "type": "nominal", "bandPosition": 0.185, "sort": ["DNA Microbiome", "Molzym MolYsis", "Propidium Monoazide", "Zymo HostZERO"]},
               "x2": {"field": "g", "bandPosition": 0.815},
               "y": {"field": "q1", "type": "quantitative", "scale": {"domain": [0, 100], "nice": false, "zero": true}}, "y2": {"field": "q3"},
               "fill": {"field": "g", "type": "nominal", "scale": {"domain": ["DNA Microbiome", "Molzym MolYsis", "Propidium Monoazide", "Zymo HostZERO"], "range": ["#A3A500", "#00BF7D", "#00B0F6", "#E76BF3"]}, "legend": null}}},
            {"data": {"name": "boxD"}, "mark": {"type": "bar", "stroke": "#111", "strokeWidth": 2, "fillOpacity": 0},
             "encoding": {
               "x": {"field": "g", "type": "nominal", "bandPosition": 0.185, "sort": ["DNA Microbiome", "Molzym MolYsis", "Propidium Monoazide", "Zymo HostZERO"]},
               "x2": {"field": "g", "bandPosition": 0.815},
               "y": {"field": "med", "type": "quantitative", "scale": {"domain": [0, 100], "nice": false, "zero": true}}, "y2": {"field": "med"}}},
            {"data": {"name": "boxD"}, "mark": {"type": "tick", "size": 20, "thickness": 2, "color": "#111", "opacity": 1},
             "encoding": {
               "x": {"field": "g", "type": "nominal", "sort": ["DNA Microbiome", "Molzym MolYsis", "Propidium Monoazide", "Zymo HostZERO"]},
               "y": {"field": "max", "type": "quantitative", "scale": {"domain": [0, 100], "nice": false, "zero": true}}}},
            {"data": {"name": "ptsD"}, "mark": {"type": "point", "filled": true, "size": 36, "opacity": 0.9},
             "encoding": {
               "x": {"field": "g", "type": "nominal", "sort": ["DNA Microbiome", "Molzym MolYsis", "Propidium Monoazide", "Zymo HostZERO"]},
               "xOffset": {"field": "j", "type": "quantitative", "scale": {"domain": [-4, 4], "range": [13.53, 57.53]}},
               "y": {"field": "v", "type": "quantitative", "scale": {"domain": [0, 100], "nice": false, "zero": true}},
               "color": {"field": "g", "type": "nominal", "scale": {"domain": ["DNA Microbiome", "Molzym MolYsis", "Propidium Monoazide", "Zymo HostZERO"], "range": ["#414487", "#2A788E", "#22A884", "#7AD151"]}, "legend": null}}},
            {"data": {"name": "brD"}, "mark": {"type": "rule", "color": "#333", "strokeWidth": 1.5},
             "encoding": {"x": {"field": "a", "type": "nominal", "bandPosition": 0.5, "sort": ["DNA Microbiome", "Molzym MolYsis", "Propidium Monoazide", "Zymo HostZERO"]}, "x2": {"field": "b", "bandPosition": 0.5}, "y": {"field": "h", "type": "quantitative", "scale": {"domain": [0, 100], "nice": false, "zero": true}}}},
            {"data": {"name": "brD"}, "mark": {"type": "rule", "color": "#333", "strokeWidth": 1.5},
             "encoding": {"x": {"field": "a", "type": "nominal", "sort": ["DNA Microbiome", "Molzym MolYsis", "Propidium Monoazide", "Zymo HostZERO"]}, "y": {"field": "h", "type": "quantitative", "scale": {"domain": [0, 100], "nice": false, "zero": true}}, "y2": {"field": "ea"}}},
            {"data": {"name": "brD"}, "mark": {"type": "rule", "color": "#333", "strokeWidth": 1.5},
             "encoding": {"x": {"field": "b", "type": "nominal", "sort": ["DNA Microbiome", "Molzym MolYsis", "Propidium Monoazide", "Zymo HostZERO"]}, "y": {"field": "h", "type": "quantitative", "scale": {"domain": [0, 100], "nice": false, "zero": true}}, "y2": {"field": "eb"}}},
            {"data": {"name": "starD"}, "mark": {"type": "text", "text": "*", "font": "Liberation Sans", "fontWeight": "bold", "fontSize": 22, "baseline": "middle", "dy": 5, "color": "#111"},
             "encoding": {"x": {"field": "c", "type": "nominal", "bandPosition": 0, "sort": ["DNA Microbiome", "Molzym MolYsis", "Propidium Monoazide", "Zymo HostZERO"]}, "y": {"field": "s", "type": "quantitative", "scale": {"domain": [0, 100], "nice": false, "zero": true}}}}
          ]
        }
      ]
    }
  ]
}
